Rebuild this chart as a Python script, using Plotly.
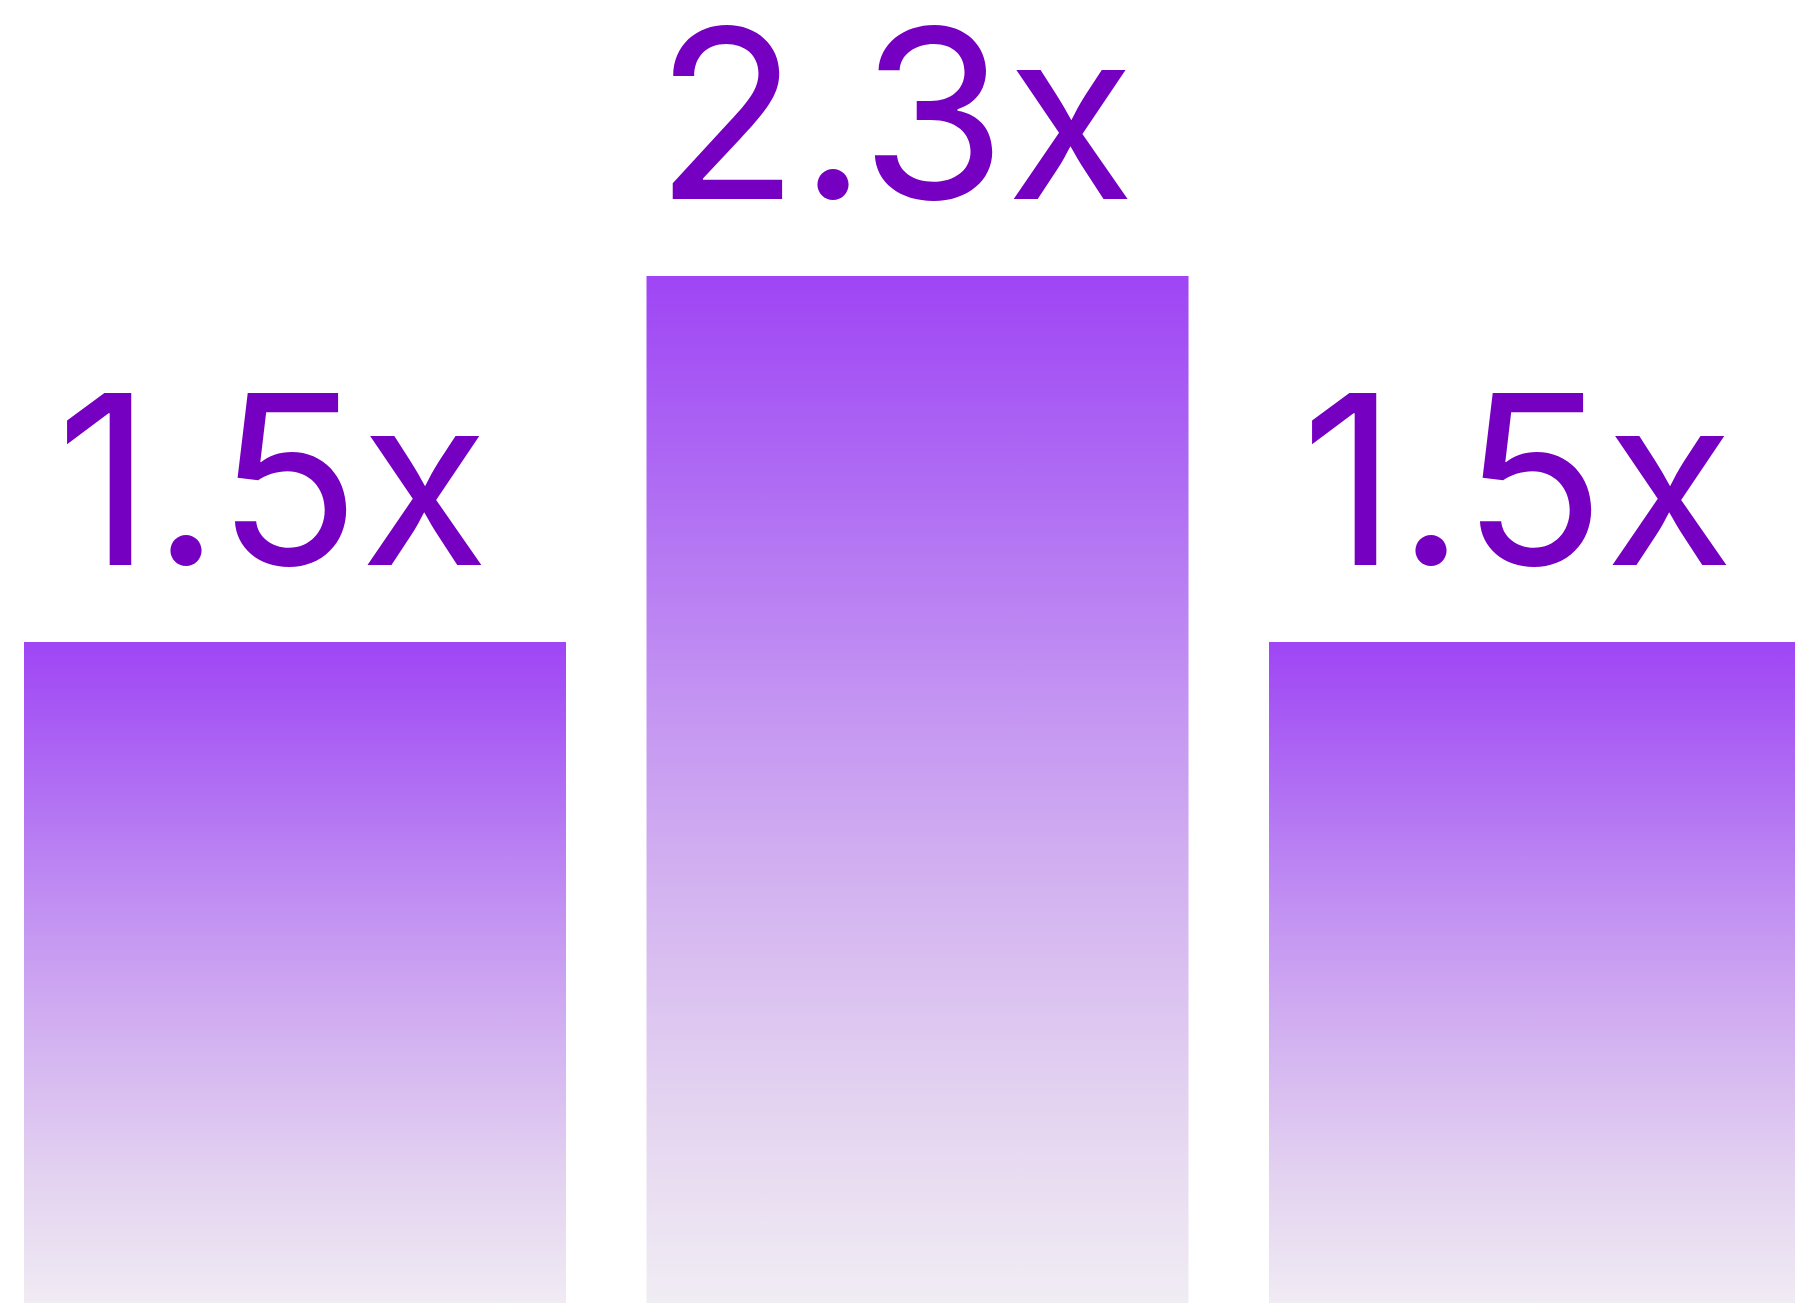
import plotly.graph_objects as go

# ---- data ----
categories = [0, 1, 2]
values = [1.5, 2.3, 1.5]
labels = ["1.5x", "2.3x", "1.5x"]

# ---- style ----
BAR_WIDTH = 0.8707
TEXT_COLOR = "#7600c1"
GRADIENT = [
    [0.0, "#f2f0f4"],
    [0.22, "#e3d2f0"],
    [0.41, "#d4b4f0"],
    [0.60, "#c393f2"],
    [0.79, "#b06ef3"],
    [1.0, "#9f45f5"],
]

fig = go.Figure()

for c, v in zip(categories, values):
    x0, x1 = c - BAR_WIDTH / 2, c + BAR_WIDTH / 2
    fig.add_trace(
        go.Scatter(
            x=[x0, x1, x1, x0, x0],
            y=[0, 0, v, v, 0],
            mode="lines",
            fill="toself",
            line=dict(width=0),
            fillgradient=dict(type="vertical", colorscale=GRADIENT),
            hoverinfo="skip",
            showlegend=False,
        )
    )

for c, v, lab in zip(categories, values, labels):
    fig.add_annotation(
        x=c,
        y=v,
        xref="x",
        yref="y",
        text=lab,
        showarrow=False,
        xanchor="center",
        yanchor="middle",
        yshift=163,
        xshift=-23,
        font=dict(family="Inter", size=236, color=TEXT_COLOR),
    )

fig.update_layout(
    width=1795,
    height=1303,
    margin=dict(l=0, r=0, t=0, b=0),
    paper_bgcolor="white",
    plot_bgcolor="white",
    showlegend=False,
    hovermode=False,
    xaxis=dict(range=[-0.4739, 2.4096], visible=False, fixedrange=True),
    yaxis=dict(range=[0.055, 2.903], visible=False, fixedrange=True),
)

fig.write_html(
    "out.html",
    config={"displayModeBar": False},
    post_script="document.body.style.margin='0';document.body.style.overflow='hidden';",
)
